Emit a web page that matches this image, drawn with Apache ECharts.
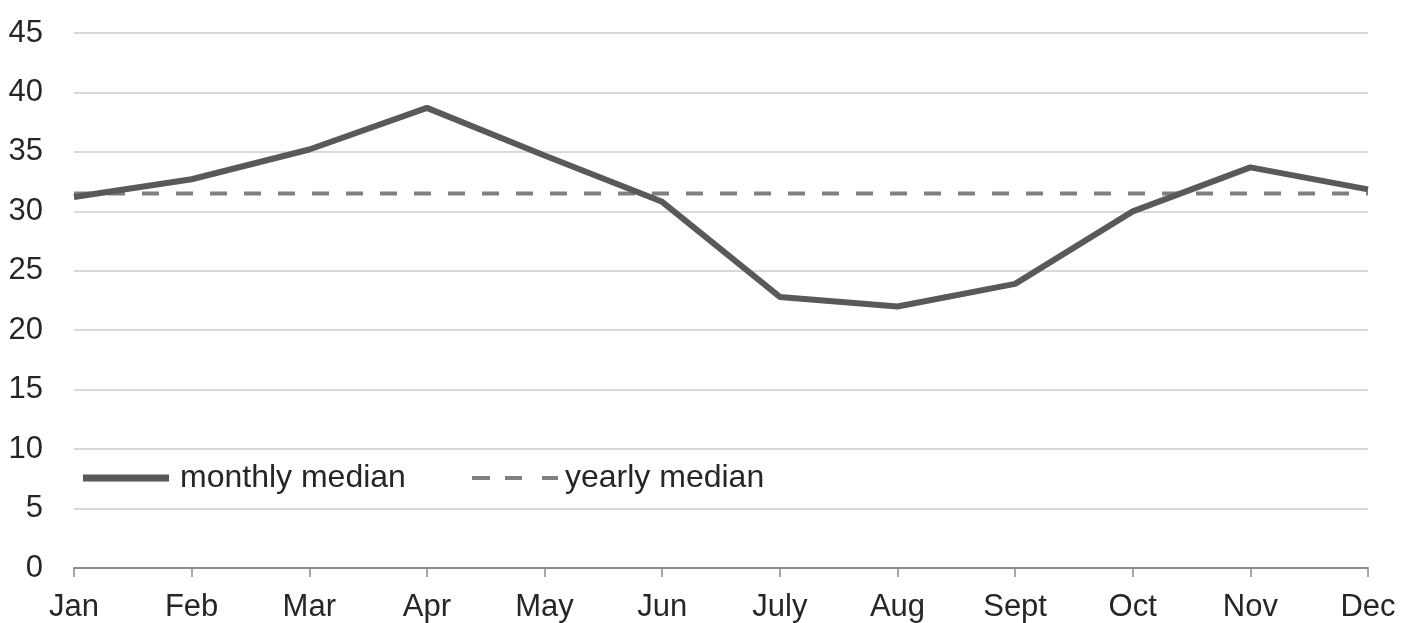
<!DOCTYPE html>
<html>
<head>
<meta charset="utf-8">
<script src="https://cdn.jsdelivr.net/npm/echarts@6/dist/echarts.min.js"></script>
<style>
html,body{margin:0;padding:0;background:#fff;}
#chart{width:1410px;height:623px;}
</style>
</head>
<body>
<div id="chart"></div>
<script>
const months = ['Jan','Feb','Mar','Apr','May','Jun','July','Aug','Sept','Oct','Nov','Dec'];
const monthlyMedian = [31.2, 32.7, 35.2, 38.7, 34.7, 30.8, 22.8, 22.0, 23.9, 30.0, 33.7, 31.85];
const yearlyMedian = [31.5, 31.5, 31.5, 31.5, 31.5, 31.5, 31.5, 31.5, 31.5, 31.5, 31.5, 31.5];
const yTicks = [0, 45, 5];

const font = '"Liberation Sans", Arial, sans-serif';
const chart = echarts.init(document.getElementById('chart'), null, {renderer: 'canvas'});
chart.setOption({
  animation: false,
  backgroundColor: '#ffffff',
  grid: {left: 74, right: 42, top: 33, bottom: 55, containLabel: false},
  legend: [
    {
      data: [{name: 'monthly median', icon: 'path://M0,0 L86,0 L86,7 L0,7 Z'}],
      left: 78, top: 457,
      itemWidth: 86, itemHeight: 7, itemGap: 10,
      itemStyle: {color: '#595959', borderWidth: 0},
      lineStyle: {width: 0},
      textStyle: {fontFamily: font, fontSize: 32, color: '#262626', padding: [0, 0, 0, 6]}
    },
    {
      data: [{name: 'yearly median', icon: 'path://M0,0 L18,0 L18,4 L0,4 Z M33,0 L50,0 L50,4 L33,4 Z M70,0 L86,0 L86,4 L70,4 Z'}],
      left: 467, top: 457,
      itemWidth: 86, itemHeight: 4, itemGap: 10,
      itemStyle: {color: '#808080', borderWidth: 0},
      lineStyle: {width: 0},
      textStyle: {fontFamily: font, fontSize: 32, color: '#262626', padding: [0, 0, 0, 2]}
    }
  ],
  xAxis: {
    type: 'category',
    data: months,
    boundaryGap: false,
    axisLine: {lineStyle: {color: '#8c8c8c', width: 2}},
    axisTick: {show: true, length: 9, lineStyle: {color: '#8c8c8c', width: 1.5}},
    axisLabel: {fontFamily: font, fontSize: 31, color: '#262626', margin: 24, interval: 0},
    splitLine: {show: false}
  },
  yAxis: {
    type: 'value',
    min: yTicks[0], max: yTicks[1], interval: yTicks[2],
    axisLine: {show: false},
    axisTick: {show: false},
    axisLabel: {fontFamily: font, fontSize: 31, color: '#262626', margin: 31},
    splitLine: {lineStyle: {color: '#d9d9d9', width: 2}}
  },
  series: [
    {
      name: 'monthly median',
      type: 'line',
      data: monthlyMedian,
      symbol: 'none',
      color: '#595959',
      lineStyle: {color: '#595959', width: 6},
      z: 3
    },
    {
      name: 'yearly median',
      type: 'line',
      data: yearlyMedian,
      symbol: 'none',
      color: '#808080',
      lineStyle: {color: '#808080', width: 4, type: [17, 17]},
      z: 2
    }
  ]
});
</script>
</body>
</html>
